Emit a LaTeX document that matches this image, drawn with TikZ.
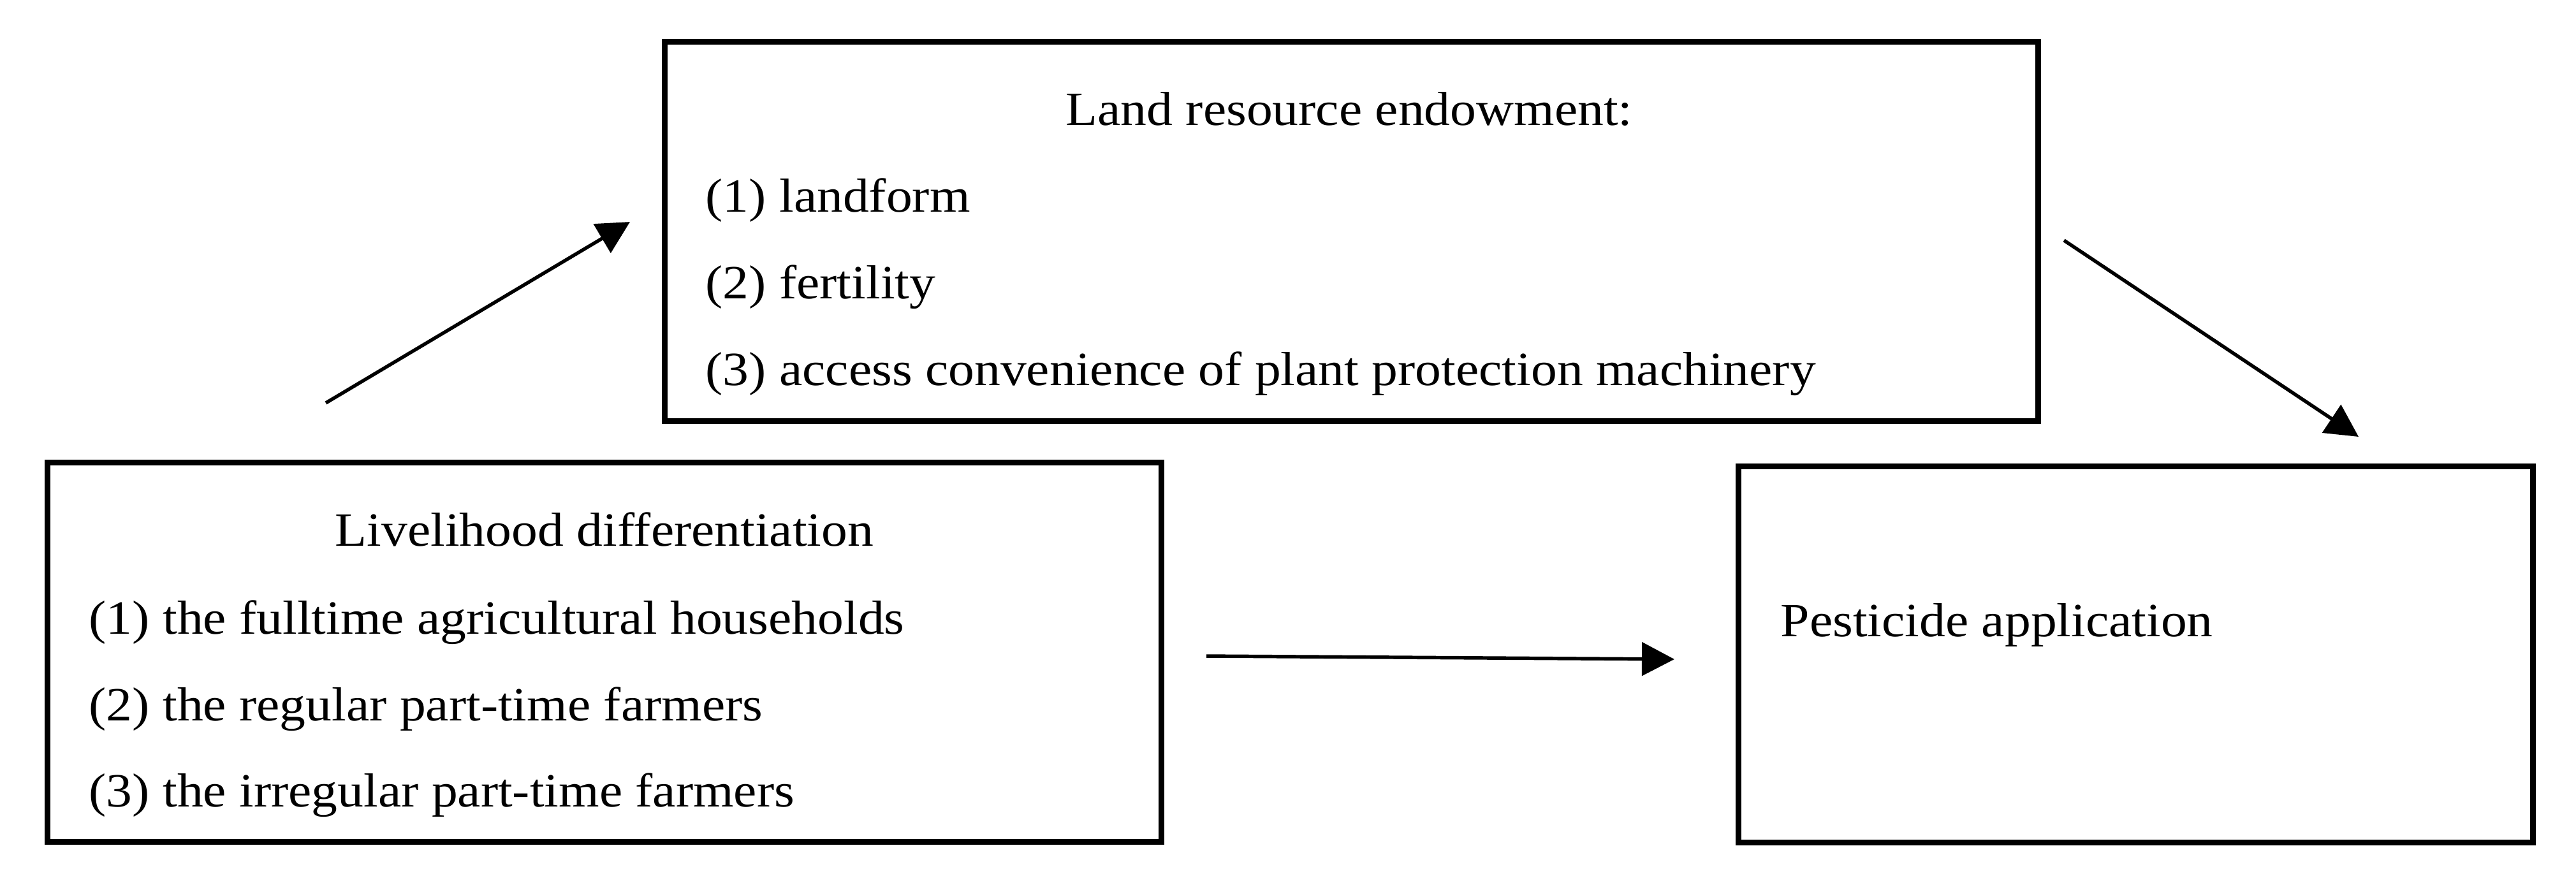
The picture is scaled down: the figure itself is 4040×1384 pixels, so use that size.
\documentclass[tikz,border=0pt]{standalone}
\usepackage{fontspec}
\setmainfont{Liberation Serif}[FakeStretch=1.09]
\usetikzlibrary{arrows.meta}
\begin{document}
\begin{tikzpicture}[x=0.01cm,y=-0.01cm,
  box/.style={draw,line width=2.55pt,inner sep=0pt},
  conn/.style={line width=1.55pt,-{Triangle[length=0.51cm,width=0.52cm]}},
  lbl/.style={inner sep=0pt,font=\fontsize{21.3pt}{25pt}\selectfont}]
\useasboundingbox (0,0) rectangle (4040,1384);
% boxes
\node[box,minimum width=21.53cm,minimum height=5.94cm] (land) at (2119.5,363) {};
\node[box,minimum width=17.46cm,minimum height=5.94cm] (live) at (948,1023) {};
\node[box,minimum width=12.45cm,minimum height=5.90cm] (pest) at (3349.5,1026.5) {};
% texts
\node[lbl,anchor=base] (landT) at (2116,196) {Land resource endowment:};
\node[lbl,anchor=base west] (land1) at (1106,332) {(1) landform};
\node[lbl,anchor=base west] (land2) at (1106,468) {(2) fertility};
\node[lbl,anchor=base west] (land3) at (1106,604) {(3) access convenience of plant protection machinery};
\node[lbl,anchor=base] (liveT) at (948,856) {Livelihood differentiation};
\node[lbl,anchor=base west] (live1) at (139,994) {(1) the fulltime agricultural households};
\node[lbl,anchor=base west] (live2) at (139,1130) {(2) the regular part-time farmers};
\node[lbl,anchor=base west] (live3) at (139,1265) {(3) the irregular part-time farmers};
\node[lbl,anchor=base west] (pestT) at (2792,998) {Pesticide application};
% connectors
\coordinate (a1s) at (511,632);
\coordinate (a1e) at (988,348);
\coordinate (a2s) at (3237,377);
\coordinate (a2e) at (3699,685);
\coordinate (a3s) at (1892,1029);
\coordinate (a3e) at (2626,1034);
\draw[conn] (a1s) -- (a1e);
\draw[conn] (a2s) -- (a2e);
\draw[conn] (a3s) -- (a3e);
\end{tikzpicture}
\end{document}
